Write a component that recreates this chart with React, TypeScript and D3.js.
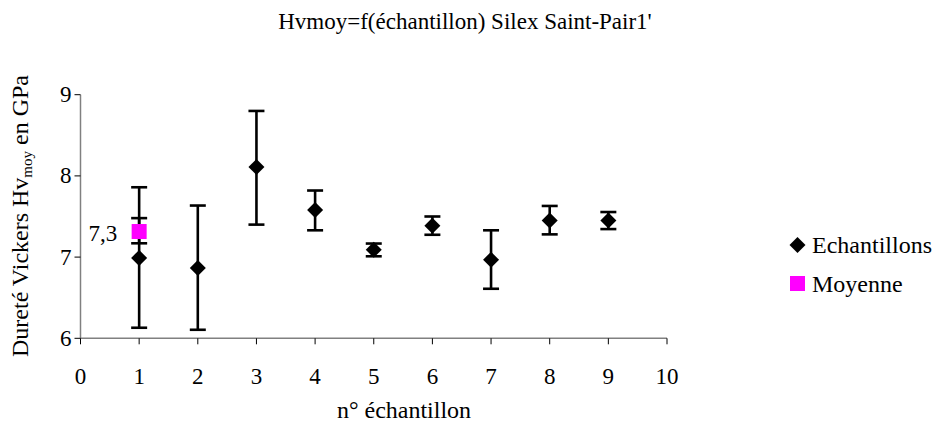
import React from "react";
import * as d3 from "d3";

const samples = [1, 2, 3, 4, 5, 6, 7, 8, 9];
const hvMean = [6.99, 6.865, 8.11, 7.58, 7.09, 7.385, 6.967, 7.45, 7.45];
const hvLow = [6.13, 6.105, 7.4, 7.33, 7.01, 7.275, 6.61, 7.28, 7.345];
const hvHigh = [7.86, 7.635, 8.8, 7.82, 7.167, 7.5, 7.33, 7.63, 7.555];

const moyX = [1];
const moyY = [7.315];
const moyLow = [7.17];
const moyHigh = [7.48];
const moyLabel = ["7,3"];

const xTicks = [0, 1, 2, 3, 4, 5, 6, 7, 8, 9, 10];
const yTicks = [6, 7, 8, 9];

const W = 932;
const H = 425;
const TS = { fontFamily: "Liberation Serif" };

export default function App() {
  const x = d3.scaleLinear().domain([0, 10]).range([80.5, 667]);
  const y = d3.scaleLinear().domain([6, 9]).range([338.3, 94.7]);
  const dpath = (cx: number, cy: number, r: number) =>
    `M${cx},${cy - r}L${cx + r},${cy}L${cx},${cy + r}L${cx - r},${cy}Z`;
  const capW = 8;
  const axisColor = "#808080";

  return (
    <svg
      width={W}
      height={H}
      style={{ position: "absolute", left: 0, top: 0, background: "#fff" }}
    >
      <rect width={W} height={H} fill="#fff" />
      <text x={465} y={29} textAnchor="middle" fontSize={23} style={TS}>
        Hvmoy=f(échantillon) Silex Saint-Pair1'
      </text>

      {/* axes */}
      <line x1={x(0)} x2={x(10)} y1={y(6)} y2={y(6)} stroke={axisColor} strokeWidth={1.5} />
      <line x1={x(0)} x2={x(0)} y1={y(6)} y2={y(9)} stroke={axisColor} strokeWidth={1.5} />
      {xTicks.map((t) => (
        <g key={"xt" + t}>
          <line x1={x(t)} x2={x(t)} y1={y(6)} y2={y(6) + 6} stroke="#000" strokeWidth={1} />
          <text x={x(t)} y={384} textAnchor="middle" fontSize={23} style={TS}>
            {t}
          </text>
        </g>
      ))}
      {yTicks.map((t) => (
        <g key={"yt" + t}>
          <line x1={x(0) - 6} x2={x(0)} y1={y(t)} y2={y(t)} stroke="#000" strokeWidth={1} />
          <text x={x(0) - 9} y={y(t) + 7.5} textAnchor="end" fontSize={23} style={TS}>
            {t}
          </text>
        </g>
      ))}

      <text x={404} y={418} textAnchor="middle" fontSize={24} style={TS}>
        n° échantillon
      </text>
      <text
        transform={`translate(28,${216}) rotate(-90)`}
        textAnchor="middle"
        fontSize={24}
        style={TS}
      >
        Dureté Vickers Hv
        <tspan fontSize={15} dy={4} style={TS}>moy</tspan>
        <tspan dy={-4} style={TS}> en GPa</tspan>
      </text>

      {/* error bars samples */}
      {samples.map((s, i) => (
        <g key={"e" + s} stroke="#000" strokeWidth={2.6}>
          <line x1={x(s)} x2={x(s)} y1={y(hvLow[i])} y2={y(hvHigh[i])} />
          <line x1={x(s) - capW} x2={x(s) + capW} y1={y(hvLow[i])} y2={y(hvLow[i])} />
          <line x1={x(s) - capW} x2={x(s) + capW} y1={y(hvHigh[i])} y2={y(hvHigh[i])} />
        </g>
      ))}
      {moyX.map((s, i) => (
        <g key={"me" + s} stroke="#000" strokeWidth={2.6}>
          <line x1={x(s)} x2={x(s)} y1={y(moyLow[i])} y2={y(moyHigh[i])} />
          <line x1={x(s) - capW} x2={x(s) + capW} y1={y(moyLow[i])} y2={y(moyLow[i])} />
          <line x1={x(s) - capW} x2={x(s) + capW} y1={y(moyHigh[i])} y2={y(moyHigh[i])} />
        </g>
      ))}
      {samples.map((s, i) => (
        <path key={"d" + s} d={dpath(x(s), y(hvMean[i]), 8)} fill="#000" />
      ))}
      {moyX.map((s, i) => (
        <g key={"m" + s}>
          <rect x={x(s) - 7.5} y={y(moyY[i]) - 7.5} width={15} height={15} fill="#ff00ff" />
          <text x={x(s) - 22} y={y(moyY[i]) + 9} textAnchor="end" fontSize={23} style={TS}>
            {moyLabel[i]}
          </text>
        </g>
      ))}

      {/* legend */}
      <path d={dpath(797.5, 245, 8)} fill="#000" />
      <text x={812} y={252.5} fontSize={24} style={TS}>Echantillons</text>
      <rect x={790} y={276} width={15} height={15} fill="#ff00ff" />
      <text x={812} y={291.5} fontSize={24} style={TS}>Moyenne</text>
    </svg>
  );
}
